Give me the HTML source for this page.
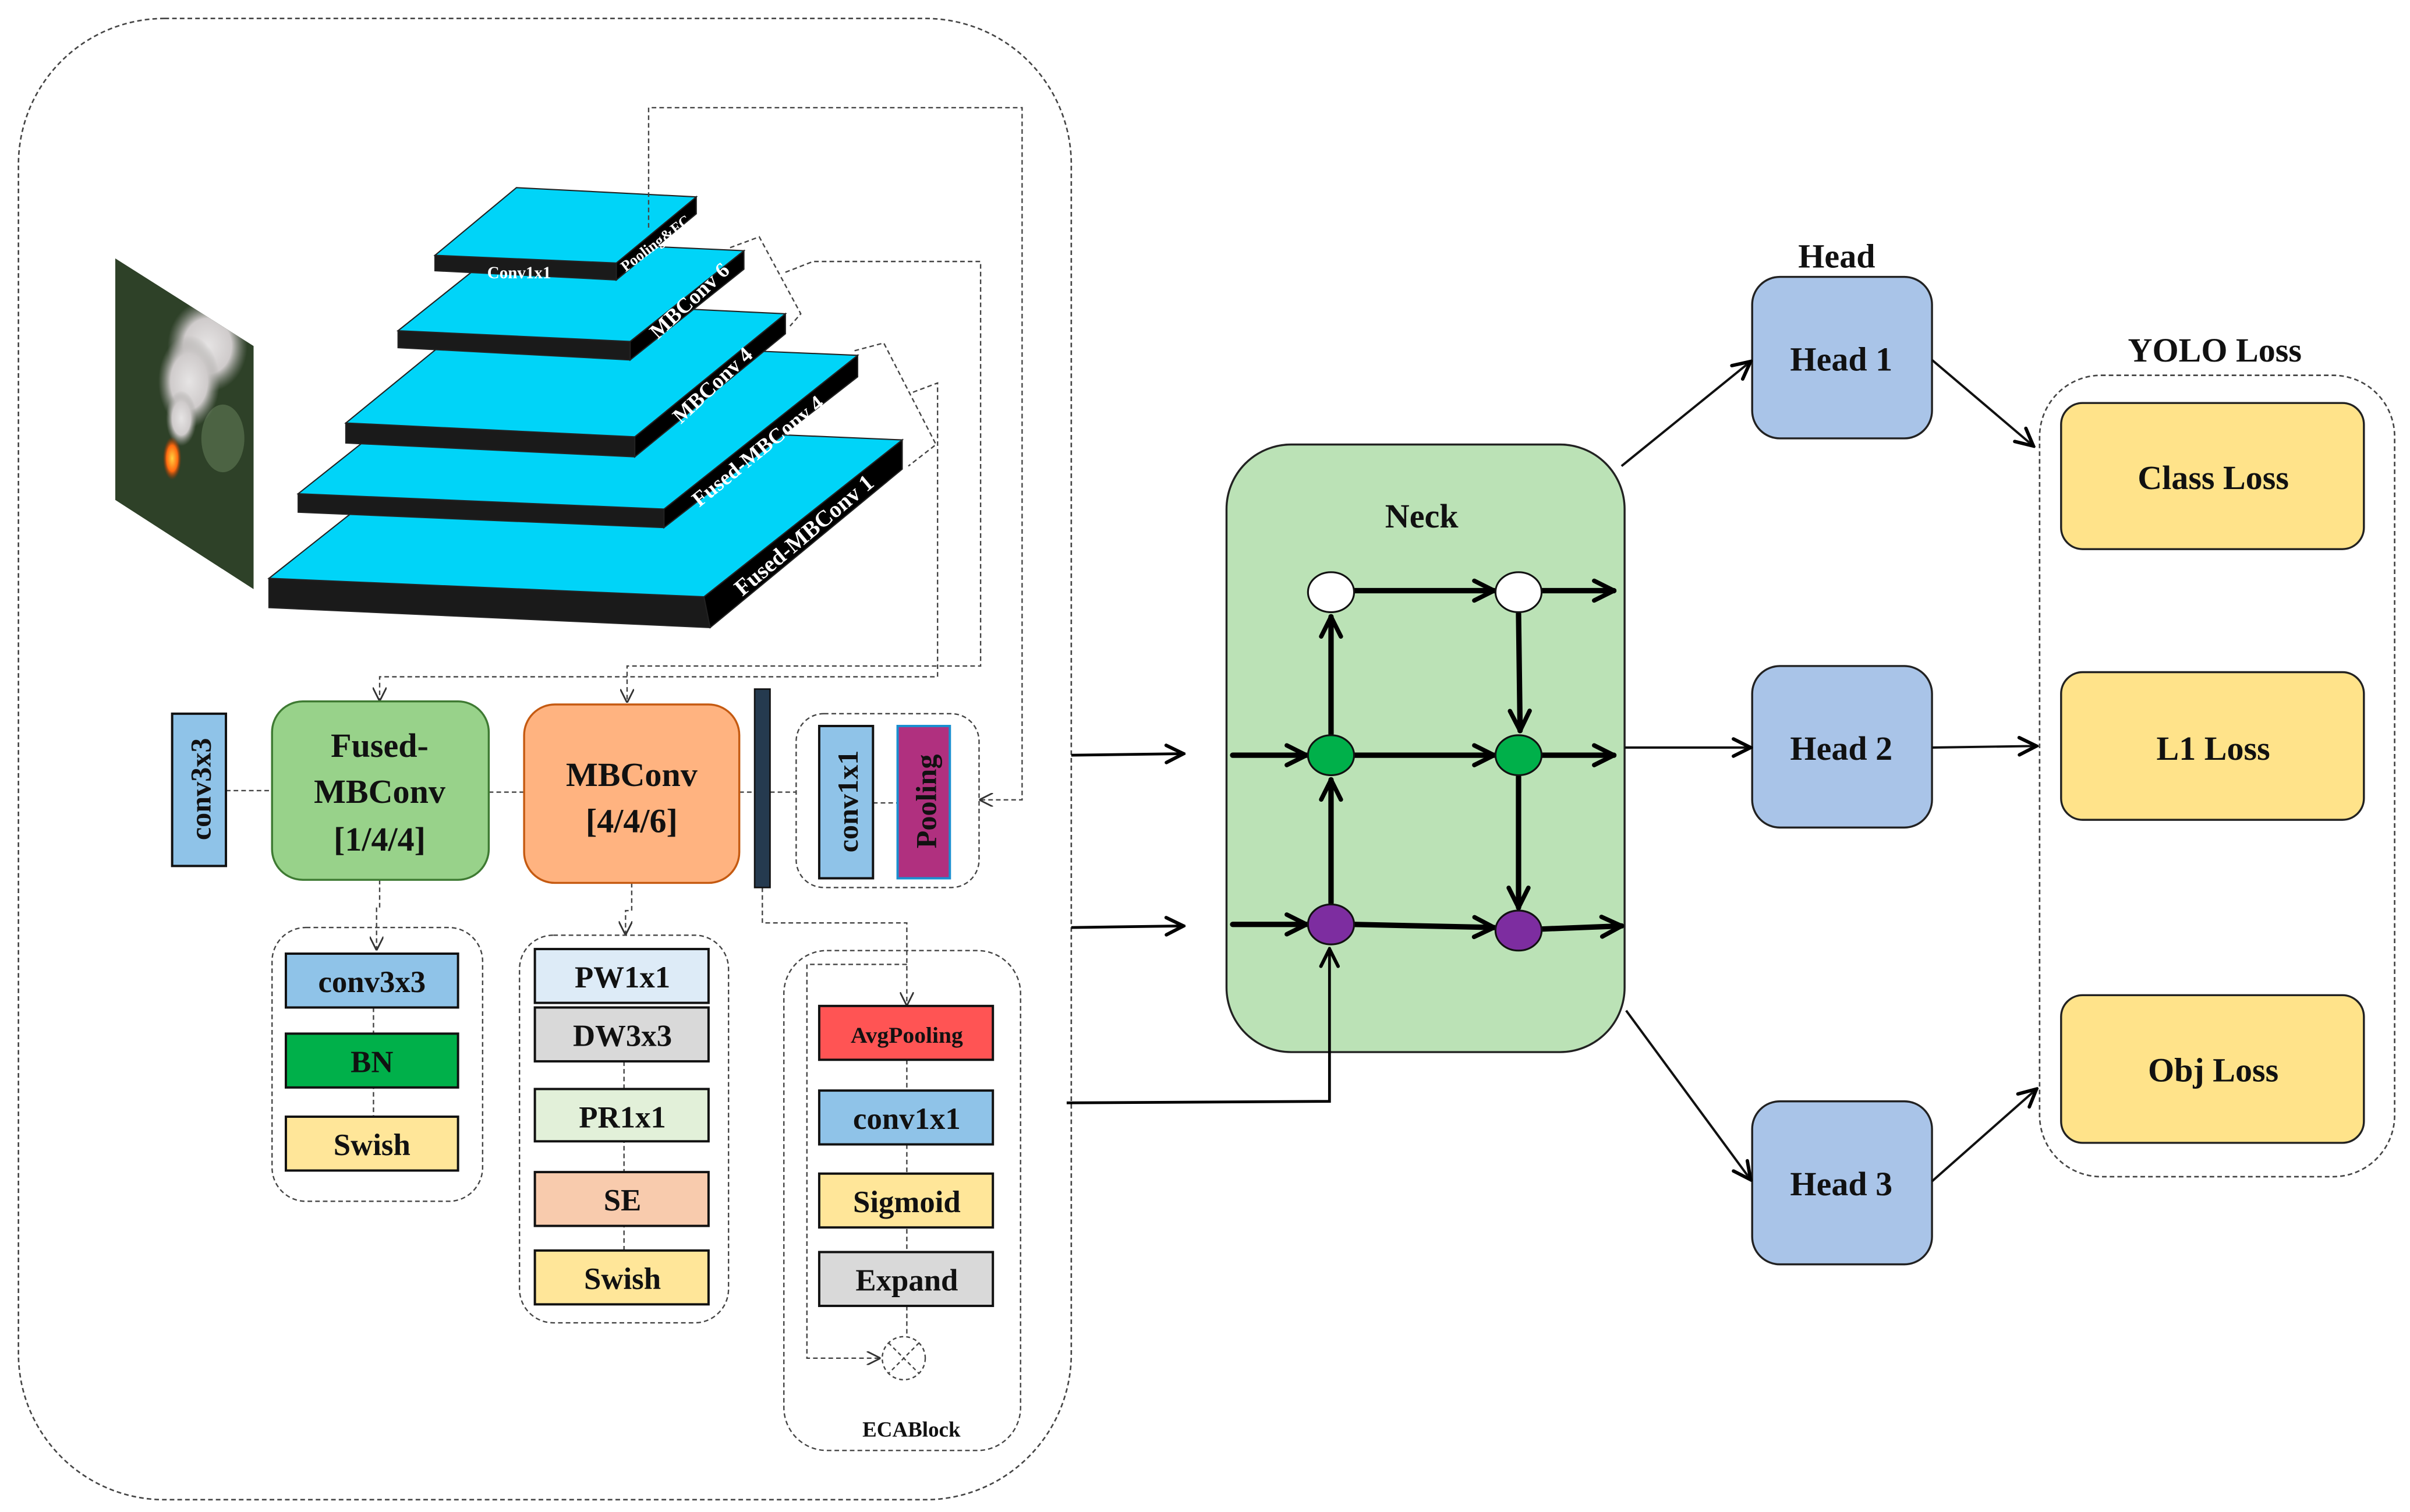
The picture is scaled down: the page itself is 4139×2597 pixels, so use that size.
<!DOCTYPE html>
<html><head><meta charset="utf-8"><style>
html,body{margin:0;padding:0;background:#fff;}
svg{display:block;}
text{font-family:"Liberation Serif","DejaVu Serif",serif;font-weight:bold;fill:#111;}
</style></head><body>
<svg width="4139" height="2597" viewBox="0 0 1568 983" preserveAspectRatio="none" xmlns="http://www.w3.org/2000/svg" font-family="Liberation Serif, DejaVu Serif, serif" font-weight="bold">
<defs>
<marker id="oa" viewBox="0 0 10 10" refX="9" refY="5" markerWidth="9" markerHeight="9" markerUnits="userSpaceOnUse" orient="auto"><path d="M0,0 L10,5 L0,10" fill="none" stroke="#333" stroke-width="1.2"/></marker>
<marker id="ta" viewBox="0 0 10 10" refX="9" refY="5" markerWidth="14" markerHeight="14" markerUnits="userSpaceOnUse" orient="auto"><path d="M1,1 L9,5 L1,9" fill="none" stroke="#000" stroke-width="1.6" stroke-linecap="round"/></marker>
<marker id="ba" viewBox="0 0 10 10" refX="9" refY="5" markerWidth="16" markerHeight="16" markerUnits="userSpaceOnUse" orient="auto"><path d="M1,1 L9,5 L1,9" fill="none" stroke="#000" stroke-width="1.8" stroke-linecap="round"/></marker>
<radialGradient id="smoke" cx="0.5" cy="0.5" r="0.5"><stop offset="0" stop-color="#e6e4e4"/><stop offset="0.6" stop-color="#cfcbcb"/><stop offset="1" stop-color="#9a9a96" stop-opacity="0"/></radialGradient>
<radialGradient id="fire" cx="0.5" cy="0.5" r="0.5"><stop offset="0" stop-color="#ffd040"/><stop offset="0.6" stop-color="#ff6a10"/><stop offset="1" stop-color="#a03000" stop-opacity="0"/></radialGradient>
<clipPath id="photo"><polygon points="75,168 165,225 165,383 75,325"/></clipPath>
</defs>

<rect x="12" y="12" width="685" height="963" rx="95" fill="none" stroke="#444" stroke-width="1" stroke-dasharray="3,2"/>

<!-- photo -->
<g clip-path="url(#photo)">
<rect x="70" y="160" width="100" height="230" fill="#22301e"/>
<rect x="70" y="160" width="100" height="230" fill="#3a5232" opacity="0.5"/>
<ellipse cx="145" cy="285" rx="14" ry="22" fill="#546c4a" opacity="0.8"/>
<ellipse cx="135" cy="225" rx="26" ry="30" fill="url(#smoke)"/>
<ellipse cx="123" cy="248" rx="20" ry="30" fill="url(#smoke)"/>
<ellipse cx="118" cy="272" rx="10" ry="18" fill="url(#smoke)"/>
<ellipse cx="112" cy="298" rx="6" ry="14" fill="url(#fire)"/>
</g>

<!-- pyramid -->
<g stroke="#222" stroke-width="0.8">
<polygon points="175,376 458,388 462,408 175,395" fill="#1a1a1a"/>
<polygon points="458,388 587,286 587,305 462,408" fill="#000"/>
<polygon points="304,274 587,286 458,388 175,376" fill="#00d4f8"/>

<polygon points="194,321 432,331 432,343 194,333" fill="#1a1a1a"/>
<polygon points="432,331 558,231 558,245 432,343" fill="#000"/>
<polygon points="320,221 558,231 432,331 194,321" fill="#00d4f8"/>

<polygon points="225,275 413,284 413,297 225,288" fill="#1a1a1a"/>
<polygon points="413,284 511,204 511,217 413,297" fill="#000"/>
<polygon points="323,195 511,204 413,284 225,275" fill="#00d4f8"/>

<polygon points="259,215 410,222 410,234 259,226" fill="#1a1a1a"/>
<polygon points="410,222 484,163 484,175 410,234" fill="#000"/>
<polygon points="333,156 484,163 410,222 259,215" fill="#00d4f8"/>

<polygon points="283,166 401,171 401,182 283,176" fill="#1a1a1a"/>
<polygon points="401,171 453,128 453,139 401,182" fill="#000"/>
<polygon points="336,122 453,128 401,171 283,166" fill="#00d4f8"/>
</g>
<g>
<text transform="translate(483,388) rotate(-40)" font-size="15" style="fill:#fff">Fused-MBConv 1</text>
<text transform="translate(455,330) rotate(-39)" font-size="14" style="fill:#fff">Fused-MBConv 4</text>
<text transform="translate(443,276) rotate(-43)" font-size="14" style="fill:#fff">MBConv 4</text>
<text transform="translate(428,221) rotate(-43)" font-size="14" style="fill:#fff">MBConv 6</text>
<text x="317" y="181" font-size="11" style="fill:#fff">Conv1x1</text>
<text transform="translate(407,177) rotate(-37)" font-size="10" style="fill:#fff">Pooling&amp;FC</text>
</g>

<!-- dashed connectors from pyramid -->
<g fill="none" stroke="#444" stroke-width="0.9" stroke-dasharray="3,2">
<polyline points="422,148 422,70 665,70 665,520 638,520" marker-end="url(#oa)"/>
<polyline points="475,161 494,154 521,204 514,212"/>
<polyline points="511,177 529,170 638,170 638,433 408,433 408,456" marker-end="url(#oa)"/>
<polyline points="556,228 575,223 609,289 591,303"/>
<polyline points="594,255 610,249 610,440 247,440 247,455" marker-end="url(#oa)"/>
</g>

<!-- middle row -->
<g fill="none" stroke="#444" stroke-width="0.9" stroke-dasharray="3,2">
<line x1="147" y1="514" x2="177" y2="514"/>
<line x1="318" y1="515" x2="341" y2="515"/>
<line x1="481" y1="515" x2="518" y2="515"/>
<line x1="568" y1="522" x2="584" y2="522"/>
<rect x="518" y="464" width="119" height="113" rx="18"/>
<polyline points="247,572 247,590 245,590 245,617" marker-end="url(#oa)"/>
<polyline points="411,574 411,592 407,592 407,607" marker-end="url(#oa)"/>
<polyline points="496,577 496,600 590,600 590,653" marker-end="url(#oa)"/>
<polyline points="590,627 525,627 525,883 572,883" marker-end="url(#oa)"/>
<rect x="177" y="603" width="137" height="178" rx="22"/>
<rect x="338" y="608" width="136" height="252" rx="22"/>
<rect x="510" y="618" width="154" height="325" rx="28"/>
<line x1="243" y1="655" x2="243" y2="726"/>
<line x1="406" y1="690" x2="406" y2="813"/>
<line x1="590" y1="689" x2="590" y2="869"/>
</g>

<rect x="112" y="464" width="35" height="99" fill="#8fc3e8" stroke="#111" stroke-width="1.5"/>
<text transform="translate(137,513) rotate(-90)" font-size="19" text-anchor="middle">conv3x3</text>

<rect x="177" y="456" width="141" height="116" rx="20" fill="#98d28a" stroke="#3e7a32" stroke-width="1.3"/>
<text x="247" y="492" font-size="22" text-anchor="middle">Fused-</text>
<text x="247" y="522" font-size="22" text-anchor="middle">MBConv</text>
<text x="247" y="553" font-size="22" text-anchor="middle">[1/4/4]</text>

<rect x="341" y="458" width="140" height="116" rx="20" fill="#ffb380" stroke="#c55a11" stroke-width="1.3"/>
<text x="411" y="511" font-size="22" text-anchor="middle">MBConv</text>
<text x="411" y="541" font-size="22" text-anchor="middle">[4/4/6]</text>

<rect x="491" y="448" width="10" height="129" fill="#253a4f" stroke="#111" stroke-width="1"/>

<rect x="533" y="472" width="35" height="99" fill="#8fc3e8" stroke="#111" stroke-width="1.5"/>
<text transform="translate(558,521) rotate(-90)" font-size="19" text-anchor="middle">conv1x1</text>
<rect x="584" y="472" width="34" height="99" fill="#b0307f" stroke="#1a8fd0" stroke-width="1.5"/>
<text transform="translate(609,521) rotate(-90)" font-size="19" text-anchor="middle">Pooling</text>

<g stroke="#111" stroke-width="1.5">
<rect x="186" y="620" width="112" height="35" fill="#8fc3e8"/>
<rect x="186" y="672" width="112" height="35" fill="#00b04a"/>
<rect x="186" y="726" width="112" height="35" fill="#ffe699"/>
<rect x="348" y="617" width="113" height="35" fill="#ddebf7"/>
<rect x="348" y="655" width="113" height="35" fill="#d9d9d9"/>
<rect x="348" y="708" width="113" height="34" fill="#e2f0d9"/>
<rect x="348" y="762" width="113" height="35" fill="#f8cbad"/>
<rect x="348" y="813" width="113" height="35" fill="#ffe699"/>
<rect x="533" y="654" width="113" height="35" fill="#ff5454"/>
<rect x="533" y="709" width="113" height="35" fill="#8fc3e8"/>
<rect x="533" y="763" width="113" height="35" fill="#ffe699"/>
<rect x="533" y="814" width="113" height="35" fill="#d9d9d9"/>
</g>
<g font-size="20" text-anchor="middle">
<text x="242" y="645">conv3x3</text>
<text x="242" y="697">BN</text>
<text x="242" y="751">Swish</text>
<text x="405" y="642">PW1x1</text>
<text x="405" y="680">DW3x3</text>
<text x="405" y="733">PR1x1</text>
<text x="405" y="787">SE</text>
<text x="405" y="838">Swish</text>
<text x="590" y="678" font-size="15">AvgPooling</text>
<text x="590" y="734">conv1x1</text>
<text x="590" y="788">Sigmoid</text>
<text x="590" y="839">Expand</text>
<text x="593" y="934" font-size="14">ECABlock</text>
</g>
<g fill="none" stroke="#444" stroke-width="0.9" stroke-dasharray="2.5,2">
<circle cx="588" cy="883" r="14"/>
<line x1="578" y1="873" x2="598" y2="893"/><line x1="598" y1="873" x2="578" y2="893"/>
</g>

<!-- Neck -->
<rect x="798" y="289" width="259" height="395" rx="42" fill="#bbe2b6" stroke="#222" stroke-width="1.3"/>
<text x="925" y="343" font-size="22" text-anchor="middle">Neck</text>

<g stroke="#000" stroke-width="1.8" fill="none">
<line x1="697" y1="491" x2="770" y2="490" marker-end="url(#ta)"/>
<line x1="697" y1="603" x2="770" y2="602" marker-end="url(#ta)"/>
<polyline points="694,717 865,716 865,617" marker-end="url(#ta)"/>
</g>

<g stroke="#000" stroke-width="3.5" fill="none" stroke-linecap="round">
<line x1="881" y1="384" x2="972" y2="384" marker-end="url(#ba)"/>
<line x1="1003" y1="384" x2="1050" y2="384" marker-end="url(#ba)"/>
<line x1="866" y1="477" x2="866" y2="401" marker-end="url(#ba)"/>
<line x1="988" y1="399" x2="989" y2="475" marker-end="url(#ba)"/>
<line x1="802" y1="491" x2="850" y2="491" marker-end="url(#ba)"/>
<line x1="881" y1="491" x2="972" y2="491" marker-end="url(#ba)"/>
<line x1="1003" y1="491" x2="1050" y2="491" marker-end="url(#ba)"/>
<line x1="866" y1="587" x2="866" y2="507" marker-end="url(#ba)"/>
<line x1="988" y1="505" x2="988" y2="590" marker-end="url(#ba)"/>
<line x1="802" y1="601" x2="850" y2="601" marker-end="url(#ba)"/>
<line x1="881" y1="601" x2="972" y2="603" marker-end="url(#ba)"/>
<line x1="1003" y1="604" x2="1055" y2="602" marker-end="url(#ba)"/>
</g>
<g stroke="#111" stroke-width="1.2">
<ellipse cx="866" cy="385" rx="15" ry="13" fill="#fff"/>
<ellipse cx="988" cy="385" rx="15" ry="13" fill="#fff"/>
<ellipse cx="866" cy="491" rx="15" ry="13" fill="#00b04a"/>
<ellipse cx="988" cy="491" rx="15" ry="13" fill="#00b04a"/>
<ellipse cx="866" cy="601" rx="15" ry="13" fill="#7d2da0"/>
<ellipse cx="988" cy="605" rx="15" ry="13" fill="#7d2da0"/>
</g>

<text x="1195" y="174" font-size="22" text-anchor="middle">Head</text>
<g fill="#a9c4e8" stroke="#222" stroke-width="1.3">
<rect x="1140" y="180" width="117" height="105" rx="18"/>
<rect x="1140" y="433" width="117" height="105" rx="18"/>
<rect x="1140" y="716" width="117" height="106" rx="18"/>
</g>
<g font-size="22" text-anchor="middle">
<text x="1198" y="241">Head 1</text>
<text x="1198" y="494">Head 2</text>
<text x="1198" y="777">Head 3</text>
</g>
<g stroke="#111" stroke-width="1.5" fill="none">
<line x1="1055" y1="303" x2="1139" y2="235" marker-end="url(#ta)"/>
<line x1="1057" y1="486" x2="1139" y2="486" marker-end="url(#ta)"/>
<line x1="1058" y1="657" x2="1139" y2="767" marker-end="url(#ta)"/>
<line x1="1257" y1="234" x2="1323" y2="290" marker-end="url(#ta)"/>
<line x1="1257" y1="486" x2="1325" y2="485" marker-end="url(#ta)"/>
<line x1="1257" y1="768" x2="1325" y2="708" marker-end="url(#ta)"/>
</g>

<text x="1441" y="235" font-size="22" text-anchor="middle">YOLO Loss</text>
<rect x="1327" y="244" width="231" height="521" rx="40" fill="none" stroke="#444" stroke-width="1" stroke-dasharray="3,2"/>
<g fill="#ffe38a" stroke="#222" stroke-width="1.3">
<rect x="1341" y="262" width="197" height="95" rx="14"/>
<rect x="1341" y="437" width="197" height="96" rx="14"/>
<rect x="1341" y="647" width="197" height="96" rx="14"/>
</g>
<g font-size="22" text-anchor="middle">
<text x="1440" y="318">Class Loss</text>
<text x="1440" y="494">L1 Loss</text>
<text x="1440" y="703">Obj Loss</text>
</g>
</svg>
</body></html>
